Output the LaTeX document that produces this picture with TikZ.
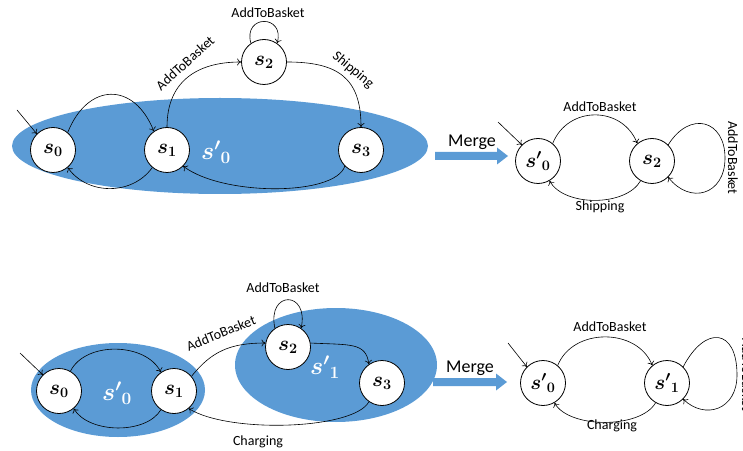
\documentclass[tikz,border=0pt]{standalone}
\usepackage{amsmath}
\usepackage{fontspec}
\setsansfont{Carlito}
\usetikzlibrary{arrows.meta,shapes.geometric}
\definecolor{groupblue}{RGB}{91,155,213}
\tikzset{
  state/.style={circle, draw, fill=white, line width=0.8pt, minimum size=45pt,
                inner sep=0pt, font=\fontsize{22}{26}\selectfont},
  group/.style={ellipse, fill=groupblue, inner sep=0pt},
  grouplabel/.style={text=white, inner sep=0pt, font=\fontsize{25}{30}\selectfont},
  edge/.style={line width=0.6pt, -{To[length=4pt,width=7pt]}},
  lbl/.style={inner sep=1pt, font=\sffamily\fontsize{14}{16}\selectfont},
  mergelbl/.style={inner sep=1pt, font=\sffamily\fontsize{18}{21}\selectfont},
  mergearrow/.style={fill=groupblue}
}
\begin{document}
\begin{tikzpicture}[x=1pt,y=1pt]
\useasboundingbox (0,0) rectangle (743,450);

% ---------- upper row: grouping of s0, s1, s3 ----------
\node[group, minimum width=416pt, minimum height=96pt] (g1) at (220,304) {};
\node[state] (a0) at (53,300) {$\boldsymbol{s_0}$};
\node[state] (a1) at (167,300) {$\boldsymbol{s_1}$};
\node[state] (a2) at (264,388) {$\boldsymbol{s_2}$};
\node[state] (a3) at (361,300) {$\boldsymbol{s_3}$};
\node[grouplabel] (g1l) at (216,298) {$\boldsymbol{{s'}_0}$};

\coordinate (a0in) at (17,340);
\draw[edge] (a0in) -- (a0.135);
\draw[edge] (a0.50) .. controls +(20,50) and +(-20,50) .. (a1.125);
\draw[edge] (a1.230) .. controls +(-20,-28) and +(20,-28) .. (a0.310);
\draw[edge] (a1.90) .. controls +(0,45) and +(-45,0) .. (a2.180);
\draw[edge] (a2.125) .. controls +(-8,29) and +(8,29) .. (a2.55);
\draw[edge] (a2.0) .. controls +(50,0) and +(0,50) .. (a3.90);
\draw[edge] (a3.225) .. controls +(-10,-30) and +(40,-30) .. (a1.315);

\node[lbl, rotate=42] (la12) at (185,387) {AddToBasket};
\node[lbl] (la22) at (268,437) {AddToBasket};
\node[lbl, rotate=-40] (la23) at (353,380) {Shipping};

% merge arrow
\fill[mergearrow] (435,290) -- (497,290) -- (497,285.5) -- (508,294)
  -- (497,302.5) -- (497,298) -- (435,298) -- cycle;
\node[mergelbl] (m1) at (472,308) {Merge};

% merged machine
\node[state] (b0) at (538,289) {$\boldsymbol{{s'}_0}$};
\node[state] (b2) at (652,289) {$\boldsymbol{s_2}$};
\coordinate (b0in) at (498,328);
\draw[edge] (b0in) -- (b0.135);
\draw[edge] (b0.50) .. controls +(15,38) and +(-15,38) .. (b2.130);
\draw[edge] (b2.240) .. controls +(-15,-26) and +(15,-26) .. (b0.300);
\draw[edge] (b2.45) .. controls (690,340) and (725,330) .. (725,292)
  .. controls (725,255) and (690,245) .. (b2.-45);
\node[lbl] (lb02) at (600,343) {AddToBasket};
\node[lbl] (lb20) at (600,243) {Shipping};
\node[lbl, rotate=-90] (lb22) at (733,292) {AddToBasket};

% ---------- lower row: two groupings ----------
\node[group, minimum width=174pt, minimum height=94pt] (g2) at (118,60) {};
\node[group, minimum width=202pt, minimum height=114pt] (g3) at (336,85) {};
\node[state] (c0) at (59,59) {$\boldsymbol{s_0}$};
\node[state] (c1) at (174,59) {$\boldsymbol{s_1}$};
\node[state] (c2) at (288,103) {$\boldsymbol{s_2}$};
\node[state] (c3) at (382,67) {$\boldsymbol{s_3}$};
\node[grouplabel] (g2l) at (117,57) {$\boldsymbol{{s'}_0}$};
\node[grouplabel] (g3l) at (325,83) {$\boldsymbol{{s'}_1}$};

\coordinate (c0in) at (20,97);
\draw[edge] (c0in) -- (c0.135);
\draw[edge] (c0.60) .. controls +(15,30) and +(-15,30) .. (c1.125);
\draw[edge] (c1.235) .. controls +(-15,-25) and +(15,-25) .. (c0.310);
\draw[edge] (c1.40) .. controls +(20,25) and +(-35,0) .. (c2.170);
\draw[edge] (c2.125) .. controls +(-8,38) and +(8,38) .. (c2.55);
\draw[edge] (c2.10) .. controls +(40,-2) and +(-3,22) .. (c3.125);
\draw[edge] (c3.235) .. controls +(-15,-28) and +(40,-25) .. (c1.310);

\node[lbl, rotate=22] (lc12) at (221,117) {AddToBasket};
\node[lbl] (lc22) at (283,162) {AddToBasket};
\node[lbl] (lc31) at (258,8) {Charging};

% merge arrow
\fill[mergearrow] (433,64) -- (496,64) -- (496,59.5) -- (507,68)
  -- (496,76.5) -- (496,72) -- (433,72) -- cycle;
\node[mergelbl] (m2) at (470,82) {Merge};

% merged machine
\node[state] (d0) at (543,67) {$\boldsymbol{{s'}_0}$};
\node[state] (d1) at (667,67) {$\boldsymbol{{s'}_1}$};
\coordinate (d0in) at (508,107);
\draw[edge] (d0in) -- (d0.135);
\draw[edge] (d0.50) .. controls +(15,38) and +(-15,38) .. (d1.130);
\draw[edge] (d1.240) .. controls +(-15,-26) and +(15,-26) .. (d0.300);
\draw[edge] (d1.45) .. controls (705,125) and (737,122) .. (737,75)
  .. controls (737,40) and (705,30) .. (d1.-45);
\node[lbl] (ld01) at (610,123) {AddToBasket};
\node[lbl] (ld10) at (612,24) {Charging};
\node[lbl, rotate=-90] (ld11) at (747,75) {AddToBasket};
\end{tikzpicture}
\end{document}
